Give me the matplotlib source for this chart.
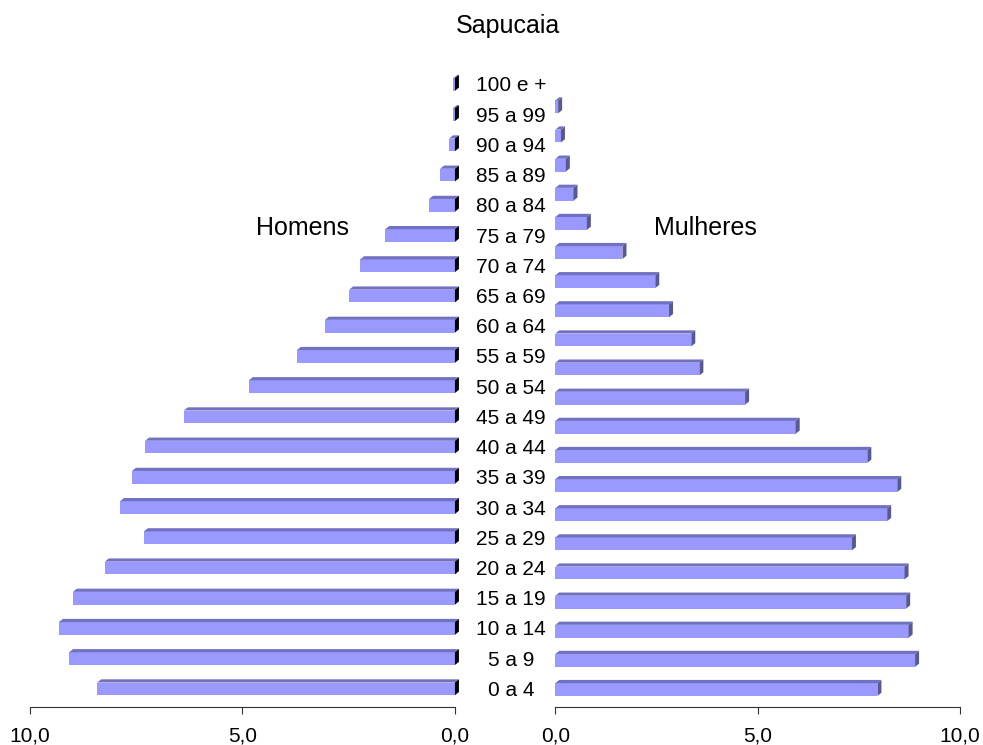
import matplotlib.pyplot as plt
from matplotlib.patches import Polygon
from matplotlib.transforms import blended_transform_factory
import numpy as np

plt.rcParams['font.family'] = ['Liberation Sans', 'DejaVu Sans']

faixas = ['0 a 4', '5 a 9', '10 a 14', '15 a 19', '20 a 24', '25 a 29',
          '30 a 34', '35 a 39', '40 a 44', '45 a 49', '50 a 54', '55 a 59',
          '60 a 64', '65 a 69', '70 a 74', '75 a 79', '80 a 84', '85 a 89',
          '90 a 94', '95 a 99', '100 e +']

# percentual da populacao por faixa etaria
homens = [8.42, 9.08, 9.32, 8.99, 8.24, 7.32, 7.88, 7.60, 7.29, 6.38, 4.85,
          3.72, 3.06, 2.49, 2.23, 1.64, 0.61, 0.35, 0.14, 0.05, 0.04]
mulheres = [7.96, 8.89, 8.73, 8.67, 8.63, 7.33, 8.20, 8.45, 7.71, 5.94, 4.69,
            3.56, 3.36, 2.81, 2.47, 1.66, 0.78, 0.45, 0.26, 0.14, 0.07]

ticks = [0, 5, 10]
tick_labels = ['0,0', '5,0', '10,0']

FRENTE = '#9999ff'
TOPO = '#7171c2'
LADO_M = '#595992'
LADO_H = '#000000'

fig = plt.figure(figsize=(9.83, 7.45), dpi=100)
axH = fig.add_axes([0.0305, 0.051, 0.4323, 0.860])
axM = fig.add_axes([0.5649, 0.051, 0.4117, 0.829])

y = np.arange(len(faixas))


def barras3d(ax, valores, altura, cor_lado, esquerda):
    if esquerda:
        ax.set_xlim(10, 0)
    else:
        ax.set_xlim(0, 10)
    ax.set_ylim(-0.6, len(valores) - 0.4)

    # profundidade do efeito 3D (em pixels) convertida para unidades dos dados
    pos = ax.get_position()
    larg_px = pos.width * fig.get_figwidth() * fig.dpi
    alt_px = pos.height * fig.get_figheight() * fig.dpi
    dx = 4 * 10 / larg_px
    dy = 3.2 * (len(valores) + 0.2) / alt_px
    if esquerda:
        dx = -dx

    ax.barh(y, valores, height=altura, color=FRENTE, linewidth=0, zorder=2)
    for yi, v in zip(y, valores):
        topo = yi + altura / 2
        base = yi - altura / 2
        ax.add_patch(Polygon([(0, topo), (v, topo), (v + dx, topo + dy), (dx, topo + dy)],
                             closed=True, facecolor=TOPO, linewidth=0,
                             zorder=2, clip_on=False))
        xe = 0 if esquerda else v
        ax.add_patch(Polygon([(xe, base), (xe, topo), (xe + dx, topo + dy), (xe + dx, base + dy)],
                             closed=True, facecolor=cor_lado, linewidth=0,
                             zorder=3, clip_on=False))

    for s in ['top', 'left', 'right']:
        ax.spines[s].set_visible(False)
    ax.spines['bottom'].set_color('#333333')
    ax.set_yticks([])
    ax.set_xticks(ticks)
    ax.set_xticklabels(tick_labels, fontsize=15)
    ax.tick_params(axis='x', direction='out', length=5, color='#333333', pad=9)
    ax.patch.set_visible(False)


barras3d(axH, homens, 0.42, LADO_H, True)
barras3d(axM, mulheres, 0.44, LADO_M, False)

# rotulos das faixas etarias no centro
trans = blended_transform_factory(fig.transFigure, axH.transData)
for yi, f in zip(y, faixas):
    axH.text(511 / 983, yi - 0.05, f, transform=trans, ha='center', va='center',
             fontsize=15, clip_on=False)

fig.text(508 / 983, 1 - 26 / 745, 'Sapucaia', ha='center', va='center', fontsize=18)
fig.text(303 / 983, 1 - 228 / 745, 'Homens', ha='center', va='center', fontsize=18)
fig.text(705 / 983, 1 - 228 / 745, 'Mulheres', ha='center', va='center', fontsize=18)

fig.savefig('out.png', dpi=100)
